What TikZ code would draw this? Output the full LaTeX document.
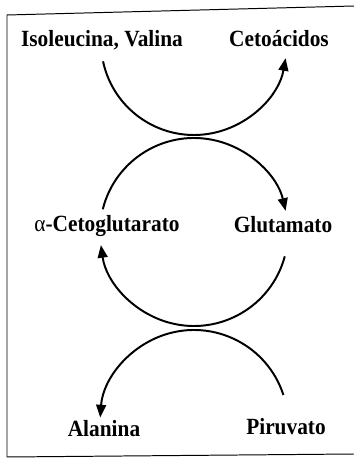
\documentclass[tikz,border=0pt]{standalone}
\usepackage{fontspec}
\setmainfont{Liberation Serif}[FakeStretch=0.92]
\usetikzlibrary{arrows.meta,positioning}

\begin{document}
\begin{tikzpicture}[x=0.025cm, y=0.025cm, >={Triangle[length=9pt,width=7pt]},
    every node/.style={font=\fontsize{16.5}{19}\selectfont\bfseries, anchor=base},
    cycle/.style={line width=1.4pt}]
    \useasboundingbox (0,0) rectangle (354,461);
    % scanned frame
    \draw[line width=0.7pt] (354,7) -- (7,4) -- (7,446) -- (354,455);
    % compounds
    \node (iso)  at (102,414) {Isoleucina, Valina};
    \node (ceto) at (279,414) {Cetoácidos};
    \node (akg)  at (107,229) {{\mdseries α}-Cetoglutarato};
    \node (glu)  at (283,228) {Glutamato};
    \node (ala)  at (104,24)  {Alanina};
    \node (pir)  at (286,26)  {Piruvato};
    % centres of the three wheels
    \coordinate (upper) at (194,419);
    \coordinate (mid)   at (194,229);
    \coordinate (lower) at (194,37);
    % the coupled arcs
    \draw[cycle,->] ([shift={(192:93)}]upper) arc[start angle=192, end angle=350, radius=93];
    \draw[cycle,->] ([shift={(166:94)}]mid) arc[start angle=166, end angle=13, radius=94];
    \draw[cycle,->] ([shift={(-15:94)}]mid) arc[start angle=-15, end angle=-172, radius=94];
    \draw[cycle,->] ([shift={(18:94)}]lower) arc[start angle=18, end angle=176, radius=94];
\end{tikzpicture}
\end{document}
